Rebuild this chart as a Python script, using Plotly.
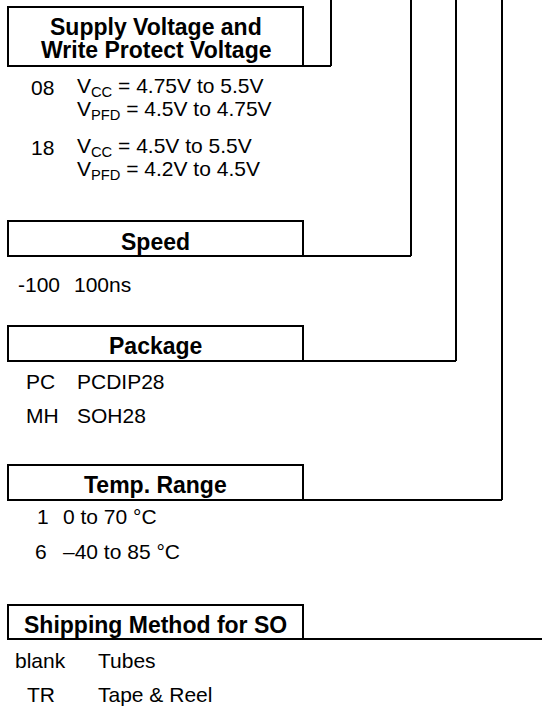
import plotly.graph_objects as go

# ---- content ----
headings = ["Supply Voltage and", "Write Protect Voltage", "Speed", "Package",
            "Temp. Range", "Shipping Method for SO"]

supply_codes = ["08", "18"]
supply_vcc = ["V<sub>CC</sub> = 4.75V to 5.5V", "V<sub>CC</sub> = 4.5V to 5.5V"]
supply_vpfd = ["V<sub>PFD</sub> = 4.5V to 4.75V", "V<sub>PFD</sub> = 4.2V to 4.5V"]

speed_codes = ["-100"]
speed_desc = ["100ns"]

package_codes = ["PC", "MH"]
package_desc = ["PCDIP28", "SOH28"]

temp_codes = ["1", "6"]
temp_desc = ["0 to 70 °C", "–40 to 85 °C"]

ship_codes = ["blank", "TR"]
ship_desc = ["Tubes", "Tape & Reel"]

# ---- layout geometry (pixels) ----
W, H = 542, 707
BOX_L, BOX_R = 8, 303
FONT = "Liberation Sans, Arial, Helvetica, sans-serif"
REG = 21
BOLD = 23
LW = 2

fig = go.Figure()
shapes = []
ann = []

def box(top, bottom, cx):
    shapes.append(dict(type="rect", x0=BOX_L, x1=BOX_R, y0=top, y1=bottom,
                       line=dict(color="black", width=LW), xref="x", yref="y"))
    shapes.append(dict(type="line", x0=BOX_R, x1=cx, y0=bottom, y1=bottom,
                       line=dict(color="black", width=LW), xref="x", yref="y"))
    if cx < W:
        shapes.append(dict(type="line", x0=cx, x1=cx, y0=bottom, y1=0,
                           line=dict(color="black", width=LW), xref="x", yref="y"))

def heading(text, y):
    ann.append(dict(x=(BOX_L + BOX_R) / 2, y=y, text="<b>" + text + "</b>",
                    xanchor="center", yanchor="middle", showarrow=False,
                    font=dict(family=FONT, size=BOLD, color="black")))

def txt(text, x, y):
    ann.append(dict(x=x, y=y, text=text, xanchor="left", yanchor="middle",
                    showarrow=False, font=dict(family=FONT, size=REG, color="black")))

# Supply
box(7, 66, 331)
heading(headings[0], 27)
heading(headings[1], 50)
for i, (c, a, b) in enumerate(zip(supply_codes, supply_vcc, supply_vpfd)):
    y0 = 87 + i * 60
    txt(c, 29, y0)
    txt(a, 75, y0)
    txt(b, 75, y0 + 23)

# Speed
box(221, 256, 411)
heading(headings[2], 242)
for i, (c, d) in enumerate(zip(speed_codes, speed_desc)):
    txt(c, 16, 284 + i * 34)
    txt(d, 72, 284 + i * 34)

# Package
box(326, 361, 456)
heading(headings[3], 346)
for i, (c, d) in enumerate(zip(package_codes, package_desc)):
    txt(c, 24, 381 + i * 34)
    txt(d, 75, 381 + i * 34)

# Temp
box(465, 500, 502)
heading(headings[4], 485)
for i, (c, d) in enumerate(zip(temp_codes, temp_desc)):
    txt(c, 33 if c != "1" else 35, 516 + i * 35)
    txt(d, 61, 516 + i * 35)

# Shipping
box(605, 639, W + 5)
heading(headings[5], 625)
for i, (c, d) in enumerate(zip(ship_codes, ship_desc)):
    txt(c, 13 if c == "blank" else 25, 660 + i * 34)
    txt(d, 96, 660 + i * 34)

fig.update_layout(
    width=W, height=H,
    margin=dict(l=0, r=0, t=0, b=0),
    paper_bgcolor="white", plot_bgcolor="white",
    xaxis=dict(range=[0, W], visible=False, fixedrange=True),
    yaxis=dict(range=[H, 0], visible=False, fixedrange=True),
    shapes=shapes, annotations=ann, showlegend=False,
)
fig.write_html(
    "out.html",
    config={"displayModeBar": False, "staticPlot": True},
    post_script=["document.body.style.margin='0';document.body.style.padding='0';"
                 "document.documentElement.style.overflow='hidden';"],
)
